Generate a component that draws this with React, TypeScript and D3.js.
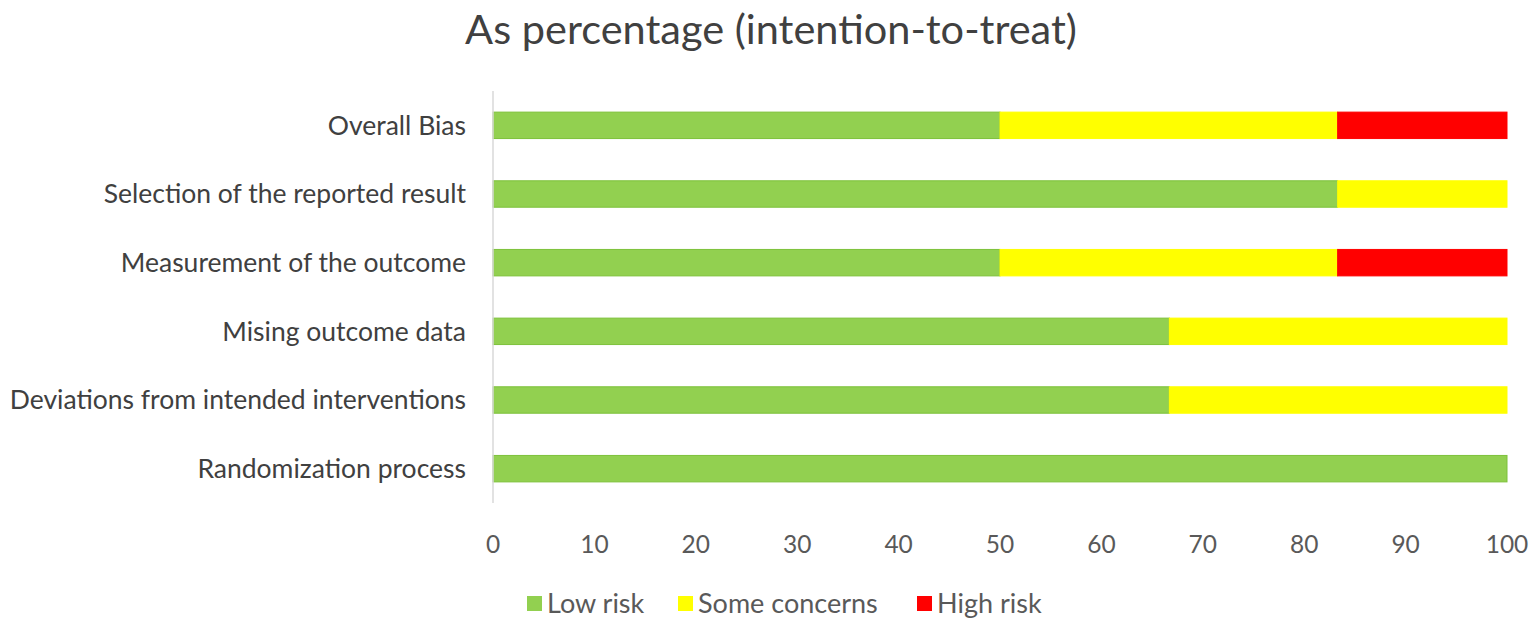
import * as React from 'react';
import * as d3 from 'd3';

// categories listed top to bottom as drawn
const categories = [
	'Overall Bias',
	'Selection of the reported result',
	'Measurement of the outcome',
	'Mising outcome data',
	'Deviations from intended interventions',
	'Randomization process',
];

const lowRisk = [50, 83.3, 50, 66.7, 66.7, 100];
const someConcerns = [33.3, 16.7, 33.3, 33.3, 33.3, 0];
const highRisk = [16.7, 0, 16.7, 0, 0, 0];

const seriesNames = ['Low risk', 'Some concerns', 'High risk'];
const seriesColors = ['#92D050', '#FFFF00', '#FF0000'];
const seriesStroke = ['#7DC13A', '#FFFF00', '#FF0000'];
const xTicks = [0, 10, 20, 30, 40, 50, 60, 70, 80, 90, 100];

const W = 1535;
const H = 625;
const FONT = 'Lato, "Open Sans", sans-serif';

const draw = (svgEl: SVGSVGElement) => {
	const svg = d3.select(svgEl);
	svg.html('');

	const x = d3.scaleLinear().domain([0, 100]).range([493, 1507]);
	const y = d3.scaleBand<string>()
		.domain(categories)
		.range([91, 503])
		.paddingInner(0.615)
		.paddingOuter(0.3075);

	// title
	svg.append('text')
		.attr('x', 771)
		.attr('y', 44)
		.attr('text-anchor', 'middle')
		.attr('font-family', FONT)
		.attr('font-size', 41.5)
		.attr('fill', '#404040')
		.text('As percentage (intention-to-treat)');

	const rows = categories.map((c, i) => ({
		cat: c,
		values: [lowRisk[i], someConcerns[i], highRisk[i]],
	}));

	// stacked segments
	rows.forEach(r => {
		let acc = 0;
		r.values.forEach((v, k) => {
			if (v <= 0) return;
			svg.append('rect')
				.attr('x', x(acc))
				.attr('y', y(r.cat)!)
				.attr('width', x(acc + v) - x(acc))
				.attr('height', y.bandwidth())
				.attr('fill', seriesColors[k])
				.attr('stroke', seriesStroke[k])
				.attr('stroke-width', 1);
			acc += v;
		});
	});

	// vertical axis line
	svg.append('line')
		.attr('x1', x(0)).attr('x2', x(0))
		.attr('y1', 91).attr('y2', 503)
		.attr('stroke', '#D9D9D9')
		.attr('stroke-width', 1.5);

	// category labels
	svg.selectAll('.cat')
		.data(categories)
		.enter().append('text')
		.attr('class', 'cat')
		.attr('x', 466)
		.attr('y', d => y(d)! + y.bandwidth() / 2)
		.attr('dy', '0.35em')
		.attr('text-anchor', 'end')
		.attr('font-family', FONT)
		.attr('font-size', 26.5)
		.attr('fill', '#404040')
		.text(d => d);

	// x tick labels
	svg.selectAll('.tick-label')
		.data(xTicks)
		.enter().append('text')
		.attr('class', 'tick-label')
		.attr('x', d => x(d))
		.attr('y', 544)
		.attr('dy', '0.35em')
		.attr('text-anchor', 'middle')
		.attr('font-family', FONT)
		.attr('font-size', 24.5)
		.attr('fill', '#595959')
		.text(d => d);

	// legend
	const legendX = [527, 678, 917];
	const legend = svg.selectAll('.legend')
		.data(seriesNames)
		.enter().append('g')
		.attr('class', 'legend')
		.attr('transform', (d, i) => 'translate(' + legendX[i] + ',604)');

	legend.append('rect')
		.attr('x', 0)
		.attr('y', -8)
		.attr('width', 15)
		.attr('height', 15)
		.attr('fill', (d, i) => seriesColors[i]);

	legend.append('text')
		.attr('x', 20)
		.attr('y', 0)
		.attr('dy', '0.35em')
		.attr('font-family', FONT)
		.attr('font-size', 27)
		.attr('fill', '#595959')
		.text(d => d);
};

const App = () => {
	const ref = React.useRef<SVGSVGElement>(null);

	React.useEffect(() => {
		if (ref.current) draw(ref.current);
	}, []);

	return (
		<svg
			ref={ref}
			width={W}
			height={H}
			style={{position: 'absolute', left: 0, top: 0, background: '#fff'}}
		/>
	);
};

export default App;
